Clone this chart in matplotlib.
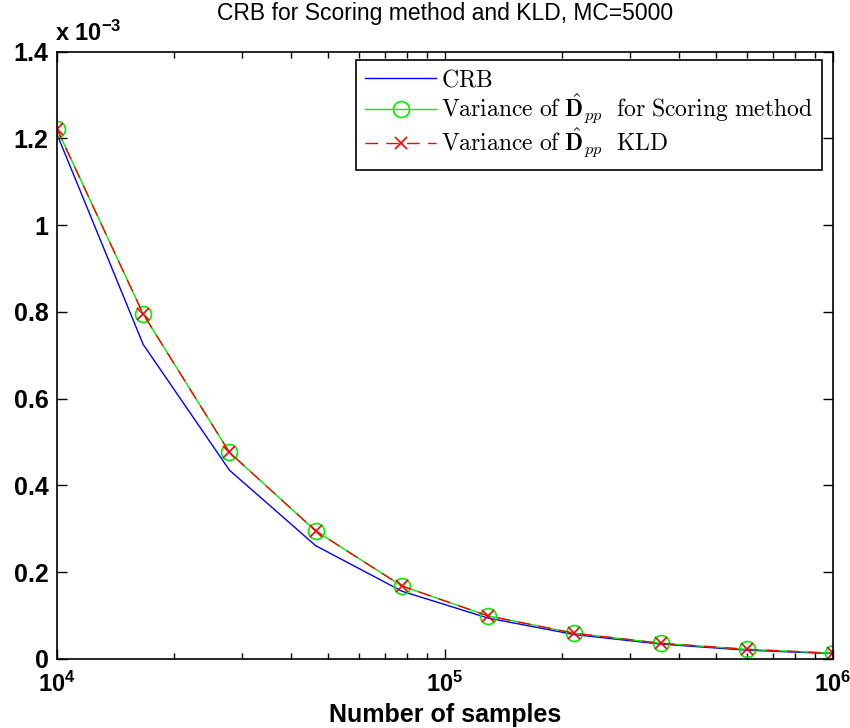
import numpy as np
import matplotlib.pyplot as plt
import matplotlib.transforms as mtransforms
from matplotlib.ticker import FuncFormatter, LogLocator

plt.rcParams['font.family'] = ['Liberation Sans', 'DejaVu Sans']
plt.rcParams['mathtext.fontset'] = 'cm'

# number of samples (log spaced, 10 points)
samples = [1.0e4, 1.668e4, 2.783e4, 4.642e4, 7.743e4, 1.292e5, 2.154e5, 3.594e5, 5.995e5, 1.0e6]
# variances
crb = [1.21e-3, 0.725e-3, 0.435e-3, 0.261e-3, 0.156e-3, 0.094e-3, 0.056e-3, 0.034e-3, 0.020e-3, 0.012e-3]
var_scoring = [1.222e-3, 0.795e-3, 0.476e-3, 0.295e-3, 0.168e-3, 0.099e-3, 0.059e-3, 0.036e-3, 0.022e-3, 0.013e-3]
var_kld = [1.222e-3, 0.795e-3, 0.476e-3, 0.295e-3, 0.168e-3, 0.099e-3, 0.059e-3, 0.036e-3, 0.022e-3, 0.013e-3]

fig = plt.figure(figsize=(8.5, 7.28), dpi=100)
ax = fig.add_axes([0.067, 0.095, 0.913, 0.834])

ax.plot(samples, crb, color='blue', lw=1.0, label='$\\mathrm{CRB}$')
ax.plot(samples, var_scoring, color='#00ee00', lw=1.0, marker='o', ms=11.5, mfc='none', mew=1.2,
        label='$\\mathrm{Variance\\ of\\ }\\hat{\\mathbf{D}}_{pp}\\mathrm{\\ \\ for\\ Scoring\\ method}$')
ax.plot(samples, var_kld, color='red', lw=1.0, ls=(0, (9, 6)), marker='x', ms=9, mew=1.2,
        label='$\\mathrm{Variance\\ of\\ }\\hat{\\mathbf{D}}_{pp}\\mathrm{\\ \\ KLD}$')

ax.set_xscale('log')
ax.set_xlim(1e4, 1e6)
ax.set_ylim(0, 1.4e-3)
ax.set_yticks(np.arange(0, 1.41e-3, 0.2e-3))
ax.yaxis.set_major_formatter(FuncFormatter(lambda v, p: f"{v*1e3:g}"))
ax.xaxis.set_major_locator(LogLocator(base=10, numticks=5))
ax.xaxis.set_minor_locator(LogLocator(base=10, subs=np.arange(2, 10), numticks=20))

ax.tick_params(which='both', direction='in', top=True, right=True, width=1)
ax.tick_params(which='major', length=7)
ax.tick_params(axis='y', pad=6, labelsize=18)
ax.tick_params(axis='x', pad=9, labelsize=17)
ax.tick_params(which='minor', length=4)
for lab in ax.get_xticklabels() + ax.get_yticklabels():
    lab.set_fontweight('bold')
for s in ax.spines.values():
    s.set_linewidth(1.2)

# keep the 10^6 label inside the figure
fig.canvas.draw()
xlabs = ax.get_xticklabels()
xlabs[-1].set_transform(xlabs[-1].get_transform() +
                        mtransforms.ScaledTranslation(-4 / 100, 0, fig.dpi_scale_trans))

ax.text(-0.002, 1.01, 'x $\\mathdefault{10^{-3}}$', transform=ax.transAxes, fontsize=17,
        fontweight='bold', ha='left', va='bottom')
ax.set_title('CRB for Scoring method and KLD, MC=5000', fontsize=16.5, pad=23)
ax.set_xlabel('Number of samples', fontsize=18, fontweight='bold', labelpad=5)

leg = ax.legend(loc='upper right', fontsize=17, fancybox=False, framealpha=1,
                edgecolor='black', borderpad=0.4, labelspacing=0.0, handlelength=3.0,
                handletextpad=0.2, borderaxespad=0, bbox_to_anchor=(0.986, 0.986))
leg.get_frame().set_linewidth(1.2)

fig.savefig('out.png', dpi=100)
